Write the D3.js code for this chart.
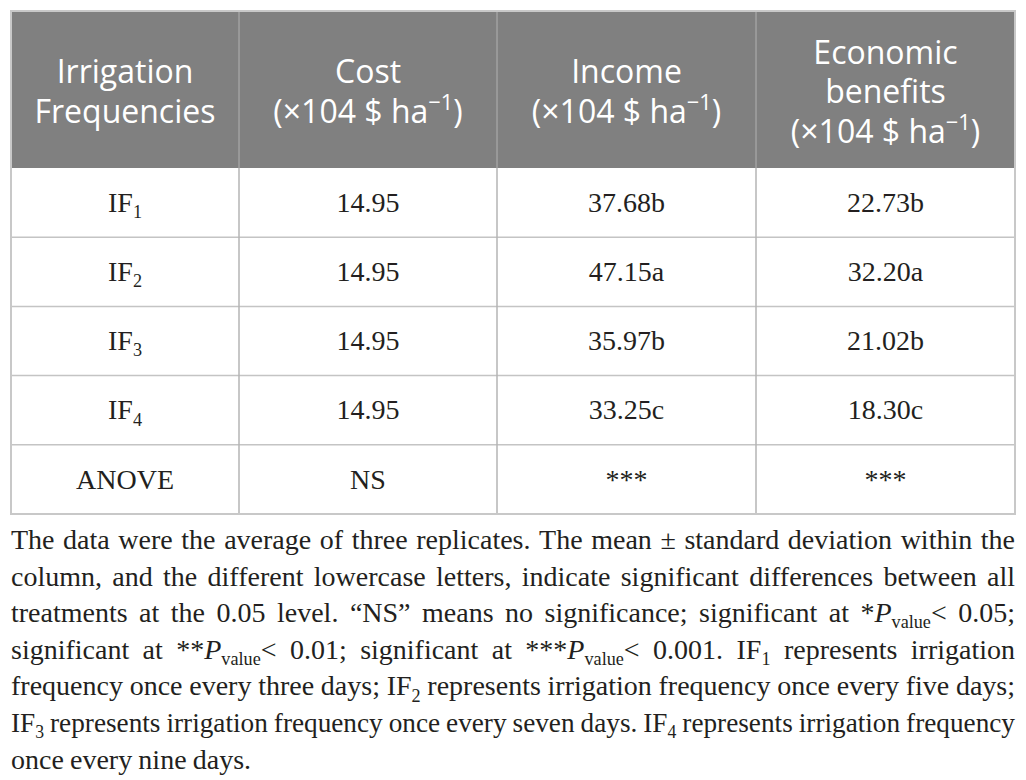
<!DOCTYPE html>
<html>
<head>
<meta charset="utf-8">
<script src="https://cdn.jsdelivr.net/npm/d3@7"></script>
<style>
  body { margin: 0; background: #fff; }
  text { white-space: pre; }
</style>
</head>
<body>
<div id="chart"></div>
<script>
// markup: _{..} subscript, ^{..} superscript, ~{..} italic
const headers = [
    ["Irrigation", "Frequencies"],
    ["Cost", "(×104 $ ha^{−1})"],
    ["Income", "(×104 $ ha^{−1})"],
    ["Economic", "benefits", "(×104 $ ha^{−1})"]
];
const rowLabels = ["IF_{1}", "IF_{2}", "IF_{3}", "IF_{4}", "ANOVE"];
const costValues = ["14.95", "14.95", "14.95", "14.95", "NS"];
const incomeValues = ["37.68b", "47.15a", "35.97b", "33.25c", "***"];
const benefitValues = ["22.73b", "32.20a", "21.02b", "18.30c", "***"];

const footnoteLines = [
    "The data were the average of three replicates. The mean ± standard deviation within the",
    "column, and the different lowercase letters, indicate significant differences between all",
    "treatments at the 0.05 level. “NS” means no significance; significant at *~{P}_{value}< 0.05;",
    "significant at **~{P}_{value}< 0.01; significant at ***~{P}_{value}< 0.001. IF_{1} represents irrigation",
    "frequency once every three days; IF_{2} represents irrigation frequency once every five days;",
    "IF_{3} represents irrigation frequency once every seven days. IF_{4} represents irrigation frequency",
    "once every nine days."
];

const width = 1026, height = 780;
const colEdges = [11, 239, 497, 756, 1015];
const tableTop = 11, headerBottom = 168, tableBottom = 514;
const serif = "'Liberation Serif', 'DejaVu Serif', serif";
const sans = "'Open Sans', 'Noto Sans', sans-serif";
const ink = "#231f20";

const svg = d3.select('#chart')
    .append('svg')
        .attr('width', width)
        .attr('height', height);

// rows
const y = d3.scaleBand()
    .domain(d3.range(rowLabels.length))
    .range([headerBottom, tableBottom]);

const colCenter = i => (colEdges[i] + colEdges[i + 1]) / 2;

// write a marked-up string into a <text> as tspans
function addRich(text, str, fs, supScale) {
    const re = /([_^~])\{([^}]*)\}/g;
    const parts = [];
    let last = 0, m;
    while ((m = re.exec(str))) {
        if (m.index > last) parts.push({t: str.slice(last, m.index), k: ''});
        parts.push({t: m[2], k: m[1]});
        last = re.lastIndex;
    }
    if (last < str.length) parts.push({t: str.slice(last), k: ''});

    let offset = 0;
    parts.forEach(p => {
        const target = p.k === '_' ? 0.22 * fs : p.k === '^' ? -0.4 * fs : 0;
        const ts = text.append('tspan').text(p.t).attr('dy', target - offset);
        offset = target;
        if (p.k === '_' || p.k === '^') ts.attr('font-size', (supScale || 0.65) * fs);
        if (p.k === '~') ts.attr('font-style', 'italic');
    });
}

// header background
svg.append('rect')
    .attr('x', colEdges[0])
    .attr('y', tableTop)
    .attr('width', colEdges[4] - colEdges[0])
    .attr('height', headerBottom - tableTop)
    .attr('fill', '#808080');

// header text
const headFs = 32, headLine = 39.5, headMid = 103;
headers.forEach((lines, c) => {
    lines.forEach((line, j) => {
        const t = svg.append('text')
            .attr('x', colCenter(c))
            .attr('y', headMid - (lines.length - 1) * headLine / 2 + j * headLine)
            .attr('text-anchor', 'middle')
            .attr('font-family', sans)
            .attr('font-size', headFs)
            .attr('fill', '#fff');
        addRich(t, line, headFs, 0.68);
    });
});

// grid lines
const grid = svg.append('g').attr('fill', 'none');
grid.selectAll('line.h')
    .data(d3.range(1, rowLabels.length))
    .enter().append('line')
        .attr('class', 'h')
        .attr('x1', colEdges[0]).attr('x2', colEdges[4])
        .attr('y1', d => y(d)).attr('y2', d => y(d))
        .attr('stroke', '#c4c4c4').attr('stroke-width', 1.5);

grid.selectAll('line.vh')
    .data(colEdges.slice(1, -1))
    .enter().append('line')
        .attr('class', 'vh')
        .attr('x1', d => d).attr('x2', d => d)
        .attr('y1', tableTop).attr('y2', headerBottom)
        .attr('stroke', '#a9a9a9').attr('stroke-width', 1.2);

grid.selectAll('line.vb')
    .data(colEdges.slice(1, -1))
    .enter().append('line')
        .attr('class', 'vb')
        .attr('x1', d => d).attr('x2', d => d)
        .attr('y1', headerBottom).attr('y2', tableBottom)
        .attr('stroke', '#b4b4b4').attr('stroke-width', 1.5);

grid.append('rect')
    .attr('x', colEdges[0]).attr('y', tableTop)
    .attr('width', colEdges[4] - colEdges[0])
    .attr('height', tableBottom - tableTop)
    .attr('stroke', '#c8c8c8').attr('stroke-width', 2);

// body cells
const bodyFs = 28;
const rows = rowLabels.map((d, i) => [d, costValues[i], incomeValues[i], benefitValues[i]]);
rows.forEach((cells, r) => {
    cells.forEach((cell, c) => {
        const t = svg.append('text')
            .attr('x', colCenter(c))
            .attr('y', y(r) + y.bandwidth() / 2 + 0.33 * bodyFs)
            .attr('text-anchor', 'middle')
            .attr('font-family', serif)
            .attr('font-size', bodyFs)
            .attr('fill', ink);
        addRich(t, cell, bodyFs);
    });
});

// footnote, justified word by word
const noteFs = 28, noteTop = 549, noteLine = 36.6;
const noteLeft = colEdges[0], noteWidth = colEdges[4] - colEdges[0];
footnoteLines.forEach((line, i) => {
    const g = svg.append('g');
    const words = line.split(' ');
    const nodes = words.map(w => {
        const t = g.append('text')
            .attr('font-family', serif)
            .attr('font-size', noteFs)
            .attr('fill', ink);
        addRich(t, w, noteFs);
        return t;
    });
    const widths = nodes.map(n => n.node().getComputedTextLength());
    const space = 0.22 * noteFs;
    const natural = d3.sum(widths) + space * (words.length - 1);
    const last = i === footnoteLines.length - 1;
    let gap = space, sx = 1;
    if (!last) {
        gap = (noteWidth - d3.sum(widths)) / (words.length - 1);
        if (gap < space) { gap = space; sx = noteWidth / natural; }
    }
    let cx = 0;
    nodes.forEach((n, k) => {
        n.attr('x', cx);
        cx += widths[k] + gap;
    });
    g.attr('transform', `translate(${noteLeft}, ${noteTop + i * noteLine}) scale(${sx}, 1)`);
});
</script>
</body>
</html>
